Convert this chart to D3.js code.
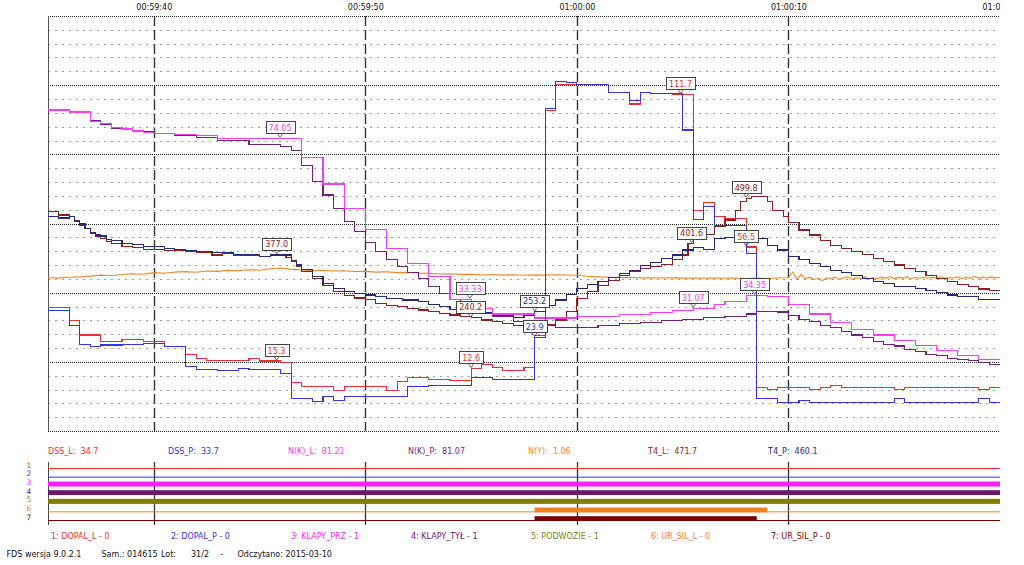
<!DOCTYPE html>
<html><head><meta charset="utf-8">
<script src="https://cdnjs.cloudflare.com/ajax/libs/d3/7.8.5/d3.min.js"></script>
<style>
html,body{margin:0;padding:0;background:#fff;}
svg text{font-family:"DejaVu Sans",Verdana,sans-serif;white-space:pre;}
</style></head>
<body><svg id="c" width="1024" height="565"></svg>
<script>
// ---- time: seconds after 00:59:35 ----
const T_START = 0, T_END = 45;
const tickSeconds = [5, 15, 25, 35, 45];

// ---- analog series: [seconds, value] (step after) ----
const DSS_L = [[0,34.7],[1,29.9],[1.5,24.7],[2.5,22.5],[3.5,23.2],[4.5,22.5],[5.5,20.5],[6.5,17.5],[7,16.3],[7.5,15.4],[9.5,16.3],[10,15.3],[11,14.7],[11.5,7.5],[12,6.0],[13.5,4.8],[14,6.0],[16,4.8],[16.5,7.8],[17,9.4],[18,8.7],[19,8.4],[20,12.6],[20.5,13.9],[21,13.0],[21.5,12.0],[22.5,13.0],[23,24.5],[23.5,105.8],[24,115.4],[26.5,112.4],[27.5,108.2],[28,112.4],[28.5,112.0],[29.5,111.7],[30.5,69.8],[31,72.6],[31.5,67.4],[32,66.9],[33,56.5],[33.5,5.8],[34,5.1],[34.5,5.8],[36,5.1],[36.5,5.8],[37,6.5],[37.5,5.8],[40,5.1],[40.5,5.8],[44,5.1],[44.5,5.8]];
const DSS_P = [[0,33.7],[0.5,33.4],[1,28.1],[1.5,21.3],[2,20.5],[2.5,21.1],[3.5,21.4],[4.5,21.7],[5.5,20.5],[6.5,13.2],[7,12.3],[8,12.0],[9,12.6],[9.5,12.3],[11,10.9],[11.5,1.8],[12.5,0.7],[13,2.4],[13.5,1.0],[14,2.4],[17,6.0],[18,6.6],[20,9.4],[21,8.7],[23,23.9],[23.5,106.6],[24,116.2],[24.5,115.9],[25,115.4],[26.5,112.4],[27.5,109.6],[28,112.4],[28.5,112.0],[30,98.8],[30.5,66.5],[31,71.1],[31.5,64.2],[33,54.2],[33.5,1.6],[34.5,0.2],[35.5,1.0],[36,0.2],[40,1.6],[40.5,0.2],[44,1.6],[44.5,0.2]];
const NK_L = [[0,81.21],[1,80.7],[2,78.2],[2.5,77.7],[3,76.9],[3.5,76.4],[4,75.9],[4.5,75.6],[5,75.3],[6,75.1],[7,74.8],[8,74.05],[12,69.3],[13,62.5],[14,56.2],[15,50.9],[16,46.1],[17,42.3],[18,39.2],[19,33.33],[20,31.1],[21,29.6],[23,28.6],[25,28.9],[27,29.4],[28.5,29.9],[29.5,30.4],[30.5,31.07],[31.5,32.1],[32,32.8],[33,34.35],[34,34.0],[35,31.9],[36,29.6],[37,27.5],[38,25.6],[39,24.3],[40,22.8],[41,21.6],[42,20.3],[43,19.0],[44,18.0]];
const NK_P = [[0,81.07],[1,80.6],[2,78.6],[2.5,77.6],[3,76.6],[3.5,76.2],[4,75.7],[5,75.2],[6,74.8],[7,74.3],[8,73.4],[9.5,72.6],[11,72.0],[11.5,70.9],[12,67.2],[12.5,63.2],[13,59.7],[13.5,56.3],[14,53.1],[14.5,50.4],[15,47.8],[15.5,45.5],[16,43.5],[16.5,41.6],[17,40.0],[17.5,38.5],[18,36.6],[18.5,34.8],[19,33.2],[19.5,31.9],[20,30.6],[20.5,29.8],[21,29.0],[22,27.8],[23,26.8],[24,26.3],[26,26.6],[27,27.1],[28,27.5],[29,27.9],[30,28.3],[31,28.7],[32,29.0],[33,29.6],[33.5,30.3],[34.5,30.1],[35,29.2],[35.5,28.3],[36,27.6],[36.5,26.8],[37,26.3],[37.5,25.2],[38,24.3],[38.5,23.6],[39,22.7],[39.5,21.9],[40,21.5],[40.5,20.6],[41,20.2],[41.5,19.4],[42,19.0],[42.5,18.4],[43,18.1],[43.5,17.8],[44,17.3],[44.5,16.9]];
const NY = [[0,1.060],[0.5,1.057],[1,1.063],[1.5,1.066],[2,1.071],[2.5,1.078],[3,1.074],[3.5,1.082],[4,1.087],[4.5,1.084],[5,1.095],[5.5,1.091],[6,1.099],[6.5,1.102],[7,1.098],[7.5,1.106],[8,1.104],[8.5,1.111],[9,1.108],[9.5,1.115],[10,1.112],[10.5,1.122],[11,1.127],[11.5,1.118],[12,1.114],[12.5,1.109],[13,1.112],[13.5,1.106],[14,1.108],[14.5,1.103],[15,1.104],[15.5,1.099],[16,1.101],[16.5,1.095],[17,1.097],[17.5,1.091],[18,1.090],[18.5,1.086],[19,1.088],[19.5,1.083],[20,1.084],[20.5,1.079],[21,1.082],[21.5,1.078],[22,1.081],[22.5,1.077],[23,1.080],[23.5,1.078],[24,1.081],[24.5,1.079],[25,1.077],[25.5,1.070],[26,1.066],[26.5,1.063],[27,1.061],[27.5,1.062],[28,1.059],[28.5,1.060],[29,1.058],[29.5,1.059],[30,1.057],[30.5,1.058],[31,1.056],[31.5,1.058],[32,1.056],[32.5,1.057],[33,1.055],[33.5,1.057],[34,1.055],[34.5,1.058],[35,1.060],[35.2,1.100],[35.4,1.050],[35.6,1.082],[35.8,1.052],[36,1.064],[36.2,1.048],[36.4,1.058],[36.6,1.040],[36.8,1.060],[37,1.052],[37.2,1.063],[37.4,1.050],[37.6,1.058],[37.8,1.066],[38,1.050],[38.2,1.060],[38.4,1.055],[38.6,1.067],[38.8,1.052],[39,1.060],[39.2,1.054],[39.4,1.064],[39.6,1.056],[39.8,1.068],[40,1.054],[40.2,1.062],[40.4,1.057],[40.6,1.066],[40.8,1.053],[41,1.061],[41.2,1.056],[41.4,1.065],[41.6,1.055],[41.8,1.063],[42,1.057],[42.2,1.068],[42.4,1.055],[42.6,1.062],[42.8,1.058],[43,1.066],[43.2,1.054],[43.4,1.061],[43.6,1.057],[43.8,1.070],[44,1.056],[44.2,1.064],[44.4,1.058],[44.6,1.066],[44.8,1.059],[45,1.062]];
const T4_L = [[0,471.7],[0.5,463.4],[1,459.8],[1.25,451],[1.5,441.7],[1.75,434.6],[2,423.7],[2.25,416.4],[2.5,413],[2.75,405.5],[3,402],[3.5,396],[4,392.6],[4.5,389],[5.5,387],[6,386],[6.5,384],[7,381.7],[7.75,376.7],[8.25,379],[8.75,375],[10,373],[10.5,377.0],[11.25,372],[11.5,362],[11.75,351],[12,340.5],[12.5,325],[13,310],[13.5,298],[14,289],[14.5,283.5],[15,280],[15.5,272],[16,268],[16.5,264.6],[17,261],[17.5,257.4],[18,254],[18.5,250.2],[19,246.5],[19.5,243],[20,240.2],[20.5,235.7],[21,232],[21.5,228.6],[22,224],[22.5,220],[23.5,225],[24,235.7],[24.5,253.7],[25,282.8],[25.5,297],[26,311],[26.5,322],[27,333],[27.5,340],[28,347],[28.5,352],[29,357],[29.5,366],[30,376.7],[30.25,401.6],[30.5,410],[31,422],[31.5,438],[32,452.6],[32.5,474],[32.75,492],[33,499.8],[33.25,503],[34,492],[34.25,474],[34.75,460],[35,446.7],[35.5,431],[36,420],[36.5,409],[37,398],[37.5,391],[38,384],[38.5,377],[39,369.5],[39.5,362],[40,355],[40.5,348],[41,340.5],[41.5,333],[42,326],[42.5,319],[43,313],[43.5,308],[44,303],[44.5,299]];
const T4_P = [[0,460.1],[0.5,457],[1,460],[1.25,449],[1.5,444],[1.75,434.6],[2,426],[2.25,420],[2.5,418],[2.75,411],[3,408],[3.5,402],[4,399],[4.5,395],[5.5,391],[6,389],[6.5,386],[7,384],[7.75,381.7],[8.75,377],[10,374],[10.5,376.7],[11.5,365],[11.75,355],[12,345],[12.5,330],[13,315],[13.5,305],[14,297],[14.5,293.6],[15,290],[15.5,286],[16,283],[16.75,279],[17.5,275.4],[18,270],[18.5,264.6],[19,259],[19.5,256],[20,251.6],[21,246.6],[22,241.6],[22.5,245],[23,253.2],[23.5,268],[24,279],[24.5,292],[25,304.5],[25.5,312],[26,319],[26.5,328],[27,337],[27.5,344],[28,353],[28.5,360],[29,369.5],[29.5,376.7],[30,387.5],[30.5,393.4],[31,389],[31.5,413],[32,415],[33,413],[34,398],[34.5,387.5],[35,373],[35.5,366],[36,358.7],[36.5,352],[37,344],[37.5,338],[38,333],[38.5,326],[39,318.8],[39.5,314],[40,309],[41,304.5],[41.5,300],[42,295],[42.5,290],[43,286],[44,280.6]];

const seriesNames  = ["DSS_L","DSS_P","N(K)_L","N(K)_P","N(Y)","T4_L","T4_P"];
const seriesData   = [DSS_L, DSS_P, NK_L, NK_P, NY, T4_L, T4_P];
const seriesColors = ["#ea3030","#3434d8","#f040f0","#74207a","#f0862a","#8a2020","#28287a"];
const seriesDigits = [1,1,2,2,2,1,1];
const seriesScaleIdx = [0,0,1,1,2,3,3];
const scaleDomains = [[-10,140],[0,105],[0,2.87],[-5,895]];
const drawOrder = [4,5,6,3,2,0,1];

// ---- value callouts: [series index, seconds, value] ----
const callouts = [[2,10.97,74.05],[5,10.81,377.0],[0,10.8,15.3],[2,19.95,33.33],[5,19.98,240.2],[0,20.0,12.6],[6,23.0,253.2],[1,23.0,23.9],[0,29.9,111.7],[5,30.42,401.6],[2,30.5,31.07],[5,33.0,499.8],[0,33.0,56.5],[2,33.4,34.35]];

// ---- discrete channels ----
const chNames  = ["DOPAL_L","DOPAL_P","KLAPY_PRZ","KLAPY_TYŁ","PODWOZIE","UR_SIL_L","UR_SIL_P"];
const chColors = ["#e8332e","#3434d4","#ff20ff","#6e1470","#7f7f00","#f08020","#7a0000"];
const chOn     = [[],[],[[0,45]],[[0,45]],[[0,45]],[[23,34]],[[23,33.5]]];

// ---- footer ----
const footer = [["FDS wersja 9.0.2.1",6.5],["Sam.: 014615",101.5],["Lot:",161],["31/2",191],["-",220],["Odczytano: 2015-03-10",237.5]];

// ================= drawing =================
const svg = d3.select("#c");
const L = 48, R = 1000, TOP = 16, BOT = 431;
const T0 = new Date(2015, 2, 10, 0, 59, 35);
const tm = s => new Date(T0.getTime() + s*1000);
const x = d3.scaleTime().domain([tm(T_START), tm(T_END)]).range([L, R]);
const yScales = scaleDomains.map(d => d3.scaleLinear().domain(d).range([BOT, TOP]));
const grid = d3.scaleLinear().domain([0,30]).range([BOT, TOP]);
const px = v => Math.round(v) + 0.5;

svg.append("rect").attr("width",1024).attr("height",565).attr("fill","#fff");
const defs = svg.append("defs");
defs.append("clipPath").attr("id","plot").append("rect").attr("x",L).attr("y",TOP-1).attr("width",R-L).attr("height",BOT-TOP+2);
defs.append("clipPath").attr("id","top").append("rect").attr("x",0).attr("y",-TOP).attr("width",R).attr("height",TOP);

// horizontal grid
const gl = d3.range(0,31);
svg.append("g").selectAll("line").data(gl).join("line")
  .attr("x1",L).attr("x2",R)
  .attr("y1",d=>px(grid(d))).attr("y2",d=>px(grid(d)))
  .attr("stroke",d=>d%5===0?"#222":"#9a9a9a")
  .attr("stroke-dasharray",d=>d%5===0?"1,1":"2,5")
  .attr("stroke-width",1);

// vertical lines
svg.append("line").attr("x1",L+0.5).attr("x2",L+0.5).attr("y1",TOP).attr("y2",BOT).attr("stroke","#555").attr("stroke-width",1);
svg.append("g").selectAll("line").data(tickSeconds.filter(s=>s<T_END)).join("line")
  .attr("x1",d=>px(x(tm(d)))).attr("x2",d=>px(x(tm(d))))
  .attr("y1",TOP).attr("y2",BOT)
  .attr("stroke","#333").attr("stroke-width",1.4).attr("stroke-dasharray","10,4");

// top time axis
const ax = svg.append("g").attr("transform",`translate(0,${TOP})`).attr("clip-path","url(#top)")
  .call(d3.axisTop(x).tickValues(tickSeconds.map(tm)).tickFormat(d3.timeFormat("%H:%M:%S")).tickSize(0).tickPadding(6.5));
ax.select(".domain").remove();
ax.selectAll("text").attr("font-size",8).attr("fill","#111").attr("font-family","DejaVu Sans");

// series
const plot = svg.append("g").attr("clip-path","url(#plot)");
drawOrder.forEach(i => {
  const ys = yScales[seriesScaleIdx[i]];
  const d = seriesData[i];
  const step = i !== 4;
  const pts = step ? d.concat([[T_END, d[d.length-1][1]]]) : d;
  const line = d3.line().x(p=>x(tm(p[0]))).y(p=>ys(p[1])).curve(step ? d3.curveStepAfter : d3.curveLinear);
  plot.append("path").datum(pts).attr("d",line).attr("fill","none")
    .attr("stroke",seriesColors[i]).attr("stroke-width",1.1)
    .attr("shape-rendering", step ? "crispEdges" : "auto");
});

// callouts
const cg = svg.append("g");
callouts.forEach(([i,t,v]) => {
  const cx = x(tm(t)), cy = yScales[seriesScaleIdx[i]](v);
  const g = cg.append("g");
  const txt = g.append("text").text(d3.format(`.${seriesDigits[i]}f`)(v))
    .attr("font-size",8).attr("fill",seriesColors[i]).attr("text-anchor","middle")
    .attr("x",cx).attr("y",cy-7.5);
  const w = txt.node().getComputedTextLength();
  g.insert("rect","text").attr("x",Math.round(cx-w/2-3)+0.5).attr("y",Math.round(cy-17)+0.5)
    .attr("width",Math.round(w+6)).attr("height",12).attr("fill","#fff").attr("stroke","#444");
  g.append("path").attr("d",`M${cx-2.5},${cy-4.5}L${cx},${cy-1}L${cx+2.5},${cy-4.5}`)
    .attr("fill","none").attr("stroke","#555").attr("stroke-width",0.9);
});

// legend readouts
svg.append("g").selectAll("text").data(seriesNames).join("text")
  .attr("x",(d,i)=>48+120*i).attr("y",453.5).attr("font-size",8)
  .attr("fill",(d,i)=>seriesColors[i])
  .text((d,i)=>`${d}:  ${d3.format(`.${seriesDigits[i]}f`)(seriesData[i][0][1])}`);

// discrete channels
const cy = d3.scalePoint().domain(d3.range(1,8)).range([468.5, 520.5]);
const dg = svg.append("g");
dg.selectAll("text.n").data(d3.range(1,8)).join("text").attr("class","n")
  .attr("x",29).attr("y",d=>cy(d)-1).attr("text-anchor","middle").attr("font-size",7.5)
  .attr("fill",d=>chColors[d-1]).text(d=>d);
dg.append("line").attr("x1",L+0.5).attr("x2",L+0.5).attr("y1",462).attr("y2",525).attr("stroke","#444");
dg.selectAll("line.v").data(tickSeconds.filter(s=>s<T_END)).join("line").attr("class","v")
  .attr("x1",d=>px(x(tm(d)))).attr("x2",d=>px(x(tm(d)))).attr("y1",462).attr("y2",525)
  .attr("stroke","#333").attr("stroke-width",1.3);
dg.selectAll("line.h").data(d3.range(1,8)).join("line").attr("class","h")
  .attr("x1",L).attr("x2",R).attr("y1",d=>cy(d)).attr("y2",d=>cy(d))
  .attr("stroke",d=>chColors[d-1]).attr("stroke-width",1);
chOn.forEach((ivs,k) => ivs.forEach(([a,b]) => {
  dg.append("rect").attr("x",x(tm(a))).attr("width",x(tm(b))-x(tm(a)))
    .attr("y",cy(k+1)-4.3).attr("height",4.8).attr("fill",chColors[k]);
}));
const chVal = k => chOn[k].some(([a,b]) => a<=T_START && b>T_START) ? 1 : 0;
dg.selectAll("text.c").data(chNames).join("text").attr("class","c")
  .attr("x",(d,i)=>51+120*i).attr("y",538.5).attr("font-size",8)
  .attr("fill",(d,i)=>chColors[i]).text((d,i)=>`${i+1}: ${d} - ${chVal(i)}`);

// footer
svg.append("g").selectAll("text").data(footer).join("text")
  .attr("x",d=>d[1]).attr("y",557).attr("font-size",8).attr("fill","#111").text(d=>d[0]);
</script></body></html>
